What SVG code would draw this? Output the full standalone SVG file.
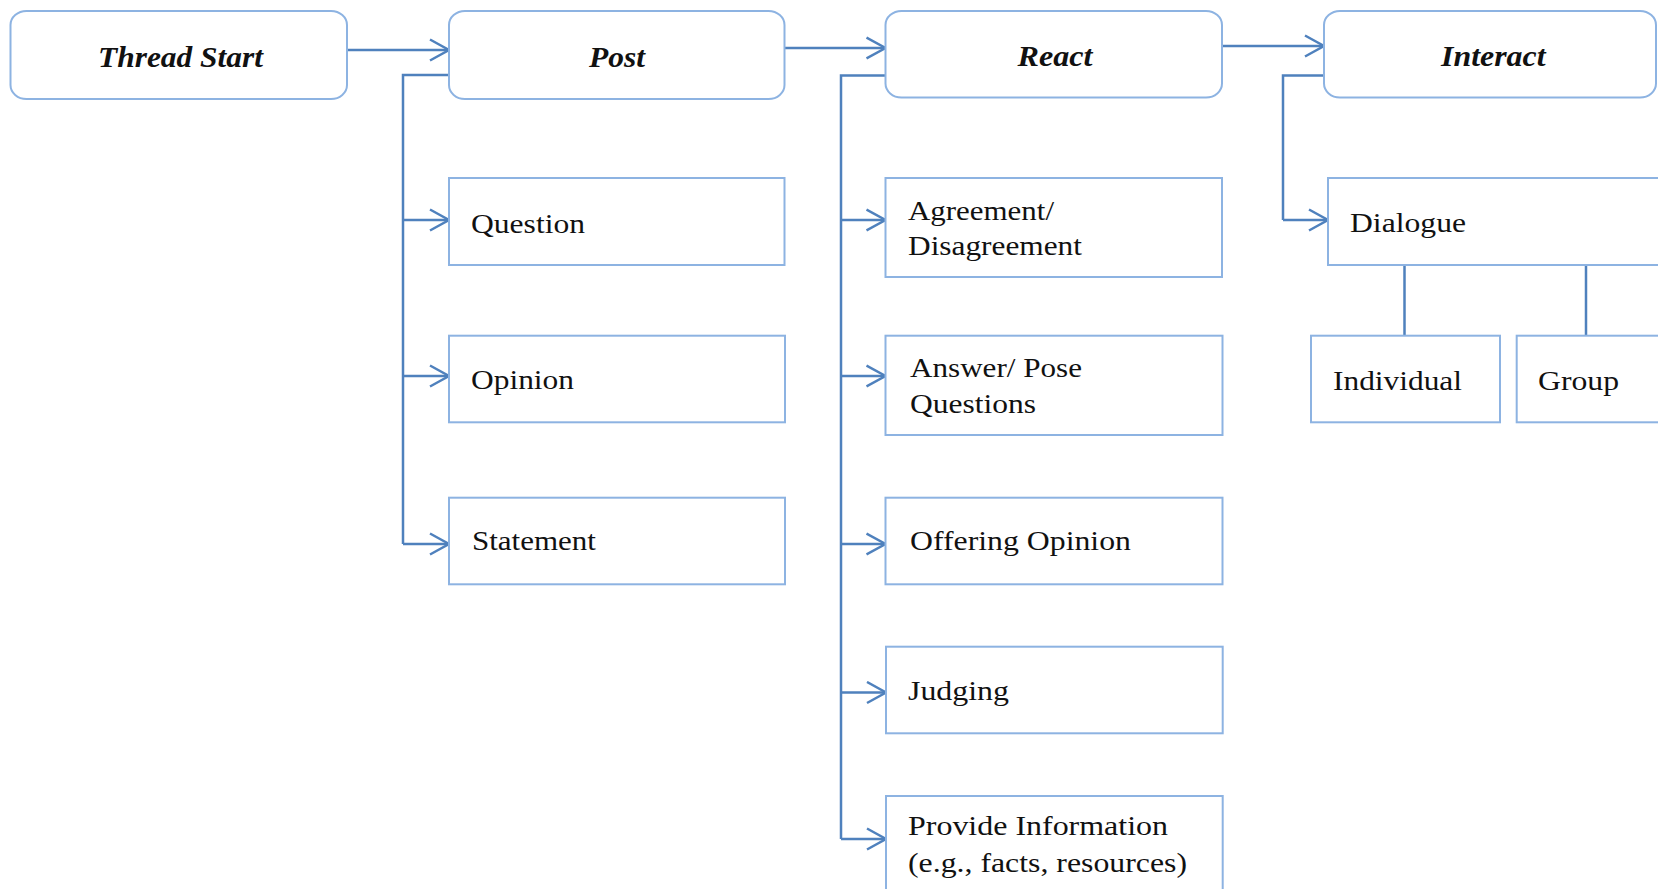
<svg xmlns="http://www.w3.org/2000/svg" width="1658" height="889" viewBox="0 0 1658 889">
<style>
.top{fill:#fff;stroke:#8DB3E2;stroke-width:2}
.box{fill:#fff;stroke:#8DB3E2;stroke-width:2}
.ln{fill:none;stroke:#4F81BD;stroke-width:2.5}
.h{font-family:"Liberation Serif","Times New Roman",serif;font-size:30px;font-weight:bold;font-style:italic;fill:#111}
.t{font-family:"Liberation Serif","Times New Roman",serif;font-size:28px;fill:#111}
</style>
<defs>
<marker id="ar" markerUnits="userSpaceOnUse" markerWidth="26" markerHeight="28" refX="20" refY="12" orient="auto" viewBox="0 0 26 28">
<path d="M1,1.5 L20,12 L1,22.5" fill="none" stroke="#4F81BD" stroke-width="2.5"/>
</marker>
</defs>
<rect width="1658" height="889" fill="#fff"/>
<g id="connectors">
<line class="ln" x1="347" y1="50" x2="449" y2="50" marker-end="url(#ar)"/>
<line class="ln" x1="784.5" y1="48" x2="885.5" y2="48" marker-end="url(#ar)"/>
<line class="ln" x1="1222" y1="46" x2="1324" y2="46" marker-end="url(#ar)"/>
<path class="ln" d="M449,75 H403 V544"/>
<line class="ln" x1="403" y1="220" x2="449" y2="220" marker-end="url(#ar)"/>
<line class="ln" x1="403" y1="376" x2="449" y2="376" marker-end="url(#ar)"/>
<line class="ln" x1="403" y1="544" x2="449" y2="544" marker-end="url(#ar)"/>
<path class="ln" d="M885.5,75.5 H841 V839"/>
<line class="ln" x1="841" y1="220" x2="885.5" y2="220" marker-end="url(#ar)"/>
<line class="ln" x1="841" y1="376" x2="885.5" y2="376" marker-end="url(#ar)"/>
<line class="ln" x1="841" y1="544" x2="885.5" y2="544" marker-end="url(#ar)"/>
<line class="ln" x1="841" y1="692.5" x2="886" y2="692.5" marker-end="url(#ar)"/>
<line class="ln" x1="841" y1="839" x2="886" y2="839" marker-end="url(#ar)"/>
<path class="ln" d="M1324,75.5 H1283 V220"/>
<line class="ln" x1="1283" y1="220" x2="1328" y2="220" marker-end="url(#ar)"/>
<line class="ln" x1="1404.5" y1="265" x2="1404.5" y2="335.7"/>
<line class="ln" x1="1586" y1="265" x2="1586" y2="335.7"/>
</g>
<g id="thread-start">
<rect class="top" x="10.5" y="11" width="336.5" height="88" rx="16" ry="14"/>
<text class="h" x="98" y="67" textLength="165" lengthAdjust="spacingAndGlyphs">Thread Start</text>
</g>
<g id="post">
<rect class="top" x="449" y="11" width="335.5" height="88" rx="16" ry="14"/>
<text class="h" x="589" y="67" textLength="56" lengthAdjust="spacingAndGlyphs">Post</text>
</g>
<g id="react">
<rect class="top" x="885.5" y="11" width="336.5" height="86.5" rx="16" ry="14"/>
<text class="h" x="1017.5" y="65.5" textLength="75" lengthAdjust="spacingAndGlyphs">React</text>
</g>
<g id="interact">
<rect class="top" x="1324" y="11" width="332" height="86.5" rx="16" ry="14"/>
<text class="h" x="1441" y="65.5" textLength="104.5" lengthAdjust="spacingAndGlyphs">Interact</text>
</g>
<g id="question">
<rect class="box" x="449" y="178" width="335.5" height="87"/>
<text class="t" x="471" y="233" textLength="114" lengthAdjust="spacingAndGlyphs">Question</text>
</g>
<g id="opinion">
<rect class="box" x="449" y="335.7" width="336" height="86.6"/>
<text class="t" x="471" y="389" textLength="103" lengthAdjust="spacingAndGlyphs">Opinion</text>
</g>
<g id="statement">
<rect class="box" x="449" y="497.7" width="336" height="86.6"/>
<text class="t" x="472" y="550" textLength="124" lengthAdjust="spacingAndGlyphs">Statement</text>
</g>
<g id="agreement">
<rect class="box" x="885.5" y="178" width="336.5" height="99"/>
<text class="t" x="908" y="220" textLength="146" lengthAdjust="spacingAndGlyphs">Agreement/</text>
<text class="t" x="908" y="255" textLength="174" lengthAdjust="spacingAndGlyphs">Disagreement</text>
</g>
<g id="answer">
<rect class="box" x="885.5" y="335.7" width="337" height="99.3"/>
<text class="t" x="910" y="377" textLength="172" lengthAdjust="spacingAndGlyphs">Answer/ Pose</text>
<text class="t" x="910" y="413" textLength="126" lengthAdjust="spacingAndGlyphs">Questions</text>
</g>
<g id="offering-opinion">
<rect class="box" x="885.5" y="497.7" width="337" height="86.6"/>
<text class="t" x="910" y="550" textLength="221" lengthAdjust="spacingAndGlyphs">Offering Opinion</text>
</g>
<g id="judging">
<rect class="box" x="886" y="646.7" width="336.7" height="86.6"/>
<text class="t" x="908" y="700" textLength="101" lengthAdjust="spacingAndGlyphs">Judging</text>
</g>
<g id="provide-information">
<rect class="box" x="886" y="796" width="336.7" height="110"/>
<text class="t" x="908" y="835" textLength="260" lengthAdjust="spacingAndGlyphs">Provide Information</text>
<text class="t" x="908" y="871.5" textLength="279" lengthAdjust="spacingAndGlyphs">(e.g., facts, resources)</text>
</g>
<g id="dialogue">
<rect class="box" x="1328" y="178" width="345" height="87"/>
<text class="t" x="1350" y="232" textLength="116" lengthAdjust="spacingAndGlyphs">Dialogue</text>
</g>
<g id="individual">
<rect class="box" x="1311" y="335.7" width="189" height="86.6"/>
<text class="t" x="1333" y="390" textLength="129" lengthAdjust="spacingAndGlyphs">Individual</text>
</g>
<g id="group">
<rect class="box" x="1516.7" y="335.7" width="160" height="86.6"/>
<text class="t" x="1538" y="390" textLength="81" lengthAdjust="spacingAndGlyphs">Group</text>
</g>
</svg>
